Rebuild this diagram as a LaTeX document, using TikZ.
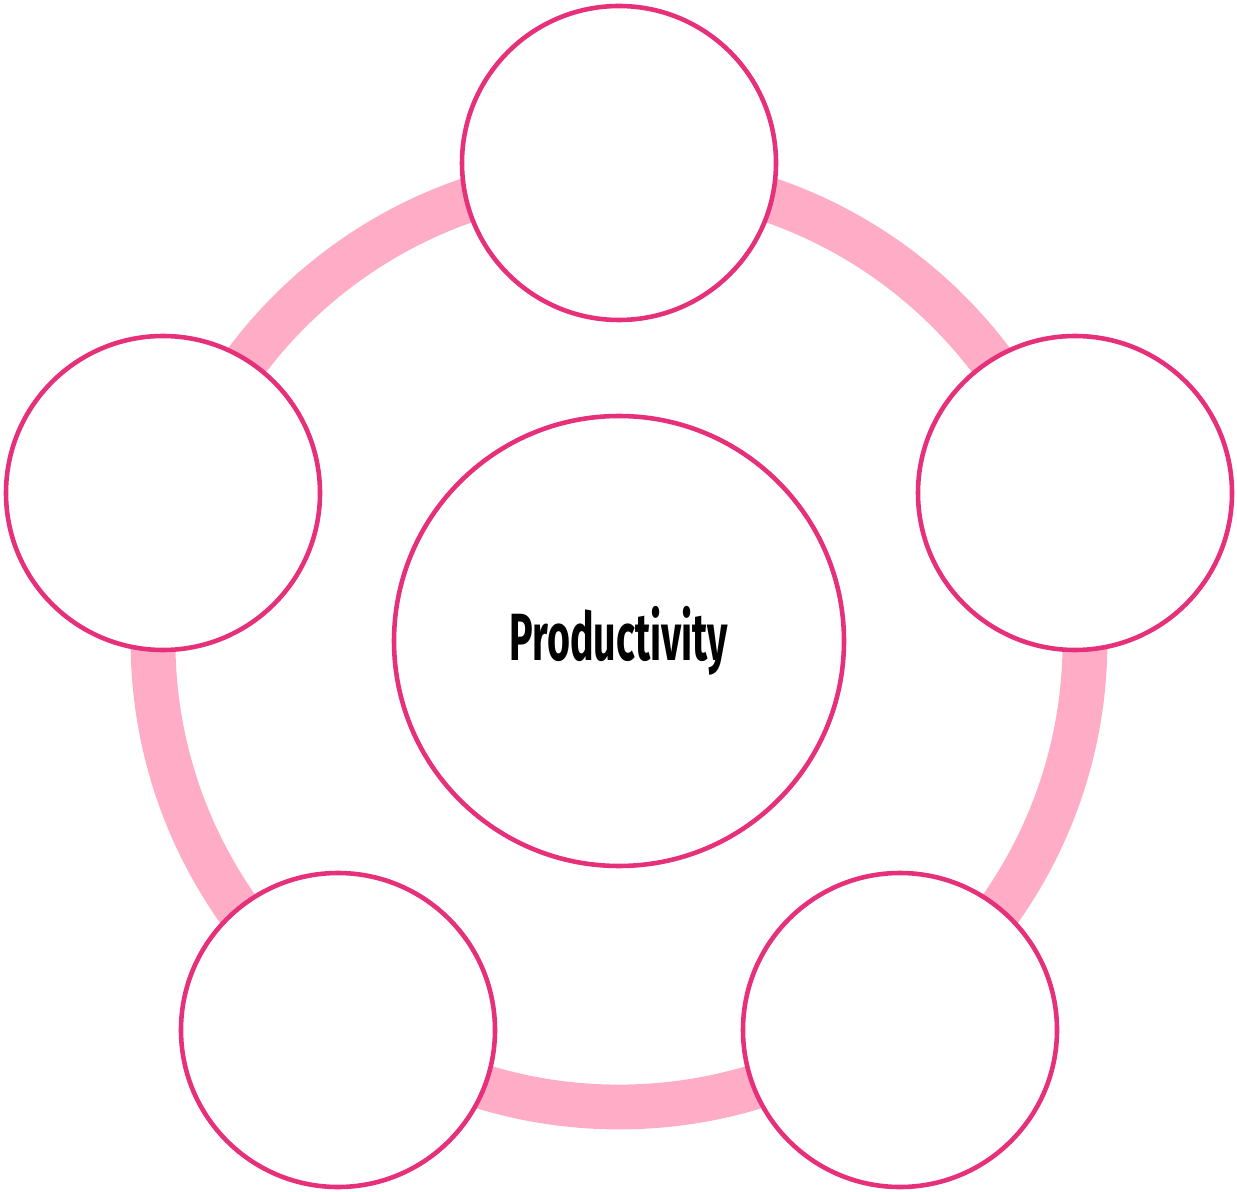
\documentclass[tikz,border=0pt]{standalone}
\usepackage{fontspec}
\setsansfont{Fira Sans}
\usepackage{graphicx}
\definecolor{ringpink}{HTML}{FFADC6}
\definecolor{rimpink}{HTML}{E6307A}

\begin{document}
\begin{tikzpicture}[x=0.02cm,y=-0.02cm,
    hub/.style={circle, draw=rimpink, line width=2.6pt, fill=white, minimum size=450*0.02cm, inner sep=0pt},
    spoke/.style={circle, draw=rimpink, line width=2.6pt, fill=white, minimum size=314*0.02cm, inner sep=0pt}]
                \useasboundingbox (0,0) rectangle (1237,1192);
                % outer ring
                \draw[ringpink, line width=25.5pt] (619,641) circle (466*0.02cm);
                % centre and the five satellites
                \node[hub] (prod) at (619,641) {\sffamily\bfseries\fontsize{38}{40}\selectfont\scalebox{0.59}[1]{Productivity}};
                \node[spoke] (top) at (619,163) {};
                \node[spoke] (left) at (163,493) {};
                \node[spoke] (right) at (1075,493) {};
                \node[spoke] (botleft) at (338,1030) {};
                \node[spoke] (botright) at (900,1030) {};
            \end{tikzpicture}
\end{document}
